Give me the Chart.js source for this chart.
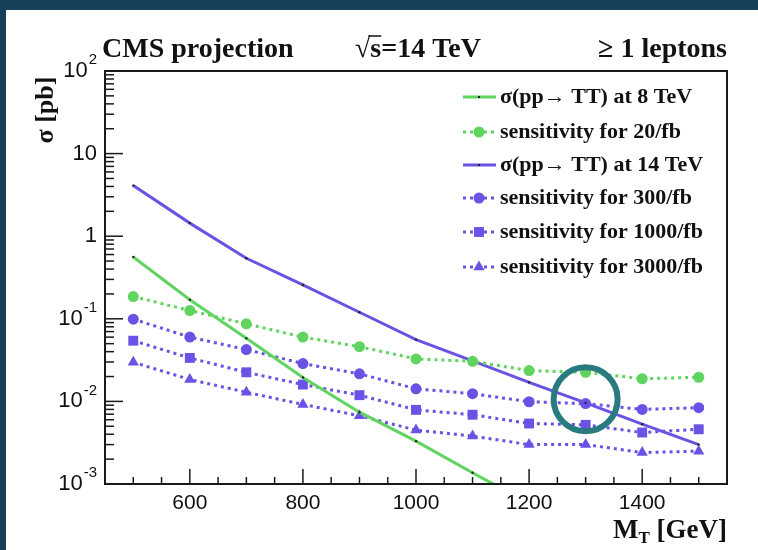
<!DOCTYPE html>
<html>
<head>
<meta charset="utf-8">
<script src="https://cdn.jsdelivr.net/npm/chart.js@4.4.1/dist/chart.umd.min.js"></script>
<style>
  html, body { margin: 0; padding: 0; background: #15405a; }
  #wrap { width: 758px; height: 550px; }
</style>
</head>
<body>
<div id="wrap"><canvas id="xsecChart" width="758" height="550"></canvas></div>
<script>
// T' pair production: theory cross sections and expected sensitivity (pb)
const massPoints = [500, 600, 700, 800, 900, 1000, 1100, 1200, 1300, 1400, 1500];
const xsec8TeV = [0.56, 0.17, 0.058, 0.0195, 0.0074, 0.0033, 0.00137, 0.00058];
const xsec14TeV = [4.1, 1.44, 0.54, 0.257, 0.12, 0.056, 0.031, 0.017, 0.0096, 0.0053, 0.0030];
const sens20 = [0.186, 0.126, 0.087, 0.060, 0.046, 0.0327, 0.0306, 0.0236, 0.0225, 0.0188, 0.0196];
const sens300 = [0.099, 0.060, 0.0424, 0.0287, 0.0216, 0.0142, 0.0124, 0.0099, 0.0094, 0.0080, 0.0084];
const sens1000 = [0.0543, 0.0336, 0.0225, 0.016, 0.0119, 0.0079, 0.0069, 0.0054, 0.0052, 0.0042, 0.0046];
const sens3000 = [0.0298, 0.0184, 0.0129, 0.0092, 0.0067, 0.0045, 0.0038, 0.0030, 0.0030, 0.0024, 0.0025];

const xLabelValues = [600, 800, 1000, 1200, 1400];
const yDecades = [100, 10, 1, 0.1, 0.01, 0.001];
const yTickLabels = [['10', '2'], ['10', ''], ['1', ''], ['10', '-1'], ['10', '-2'], ['10', '-3']];
const circledPoint = [1300, 0.0106];

const green = '#5fd45f';
const violet = '#6a52e4';
const serifBold = '"Liberation Serif", "Times New Roman", serif';
const sans = '"Liberation Sans", Arial, sans-serif';

function toPoints(values) {
    return values.map((v, i) => ({ x: massPoints[i], y: v }));
}

function theoryLine(label, values, color) {
    return {
        label: label,
        data: toPoints(values),
        borderColor: color,
        backgroundColor: '#222',
        borderWidth: 3,
        pointRadius: 1.2,
        pointBorderWidth: 0,
        lineStyle: 'solid'
    };
}

function sensitivityLine(label, values, color, marker, radius) {
    return {
        label: label,
        data: toPoints(values),
        borderColor: color,
        backgroundColor: color,
        borderWidth: 3,
        borderDash: [3, 4],
        pointStyle: marker,
        pointRadius: radius,
        pointBorderWidth: 0,
        lineStyle: 'dotted'
    };
}

function strokeLine(ctx, x1, y1, x2, y2) {
    ctx.beginPath();
    ctx.moveTo(x1, y1);
    ctx.lineTo(x2, y2);
    ctx.stroke();
}

// white panel on the dark slide background
const slideBackground = {
    id: 'slideBackground',
    beforeDraw(chart) {
        const ctx = chart.ctx;
        ctx.save();
        ctx.fillStyle = '#15405a';
        ctx.fillRect(0, 0, chart.width, chart.height);
        ctx.fillStyle = '#ffffff';
        ctx.fillRect(6, 10, chart.width - 6, chart.height - 10);
        ctx.restore();
    }
};

// ROOT style frame: inward ticks, tick labels, titles, legend
const rootFrame = {
    id: 'rootFrame',
    afterDatasetsDraw(chart) {
        const ctx = chart.ctx;
        const a = chart.chartArea;
        const x = chart.scales.x;
        const y = chart.scales.y;
        ctx.save();
        ctx.strokeStyle = '#1a1a1a';
        ctx.lineWidth = 1.5;

        for (let d = -3; d < 2; d++) {
            for (let m = 2; m <= 9; m++) {
                const py = y.getPixelForValue(m * Math.pow(10, d));
                strokeLine(ctx, a.left, py, a.left + 9, py);
            }
        }
        yDecades.forEach(v => {
            const py = y.getPixelForValue(v);
            strokeLine(ctx, a.left, py, a.left + 18, py);
        });
        for (let v = 500; v <= 1500; v += 50) {
            const px = x.getPixelForValue(v);
            const len = v % 200 === 0 ? 15 : 7;
            strokeLine(ctx, px, a.bottom, px, a.bottom - len);
        }

        ctx.lineWidth = 2;
        ctx.strokeRect(a.left, a.top, a.right - a.left, a.bottom - a.top);
        ctx.restore();
    },
    afterDraw(chart) {
        const ctx = chart.ctx;
        const a = chart.chartArea;
        const x = chart.scales.x;
        const y = chart.scales.y;
        ctx.save();
        ctx.fillStyle = '#111';
        ctx.strokeStyle = '#111';

        // y tick labels with exponents
        ctx.textBaseline = 'middle';
        ctx.textAlign = 'right';
        yDecades.forEach((v, i) => {
            const py = y.getPixelForValue(v) - 2;
            const base = yTickLabels[i][0];
            const exp = yTickLabels[i][1];
            let right = a.left - 8;
            if (exp) {
                ctx.font = '15px ' + sans;
                ctx.fillText(exp, right, py - 9);
                right -= ctx.measureText(exp).width + 1;
            }
            ctx.font = '22px ' + sans;
            ctx.fillText(base, right, py + 2);
        });

        // x tick labels
        ctx.textAlign = 'center';
        ctx.textBaseline = 'top';
        ctx.font = '21px ' + sans;
        xLabelValues.forEach(v => {
            ctx.fillText(String(v), x.getPixelForValue(v), a.bottom + 9);
        });

        // header
        ctx.textBaseline = 'alphabetic';
        ctx.textAlign = 'left';
        ctx.font = 'bold 28px ' + serifBold;
        ctx.fillText('CMS projection', 102, 57);
        ctx.fillText('\u221As=14 TeV', 355, 57);
        const radW = ctx.measureText('\u221A').width;
        const sW = ctx.measureText('s').width;
        ctx.lineWidth = 1.5;
        strokeLine(ctx, 355 + radW - 2, 36, 355 + radW + sW, 36);
        ctx.textAlign = 'right';
        ctx.fillText('\u2265 1 leptons', 727, 57);

        // axis titles
        ctx.save();
        ctx.translate(53, 110);
        ctx.rotate(-Math.PI / 2);
        ctx.textAlign = 'center';
        ctx.font = 'bold 26px ' + serifBold;
        ctx.fillText('\u03C3 [pb]', 0, 0);
        ctx.restore();

        ctx.textAlign = 'left';
        ctx.font = 'bold 27px ' + serifBold;
        const rest = ' [GeV]';
        const restW = ctx.measureText(rest).width;
        const mW = ctx.measureText('M').width;
        ctx.font = 'bold 17px ' + serifBold;
        const tW = ctx.measureText('T').width;
        let tx = 727 - restW - tW - mW;
        ctx.font = 'bold 27px ' + serifBold;
        ctx.fillText('M', tx, 538);
        ctx.font = 'bold 17px ' + serifBold;
        ctx.fillText('T', tx + mW, 543);
        ctx.font = 'bold 27px ' + serifBold;
        ctx.fillText(rest, tx + mW + tW, 538);

        // legend
        const rowY = [97, 132, 165, 198, 232, 267];
        chart.data.datasets.forEach((ds, i) => {
            const ly = rowY[i];
            ctx.save();
            ctx.strokeStyle = ds.borderColor;
            ctx.lineWidth = 3;
            if (ds.lineStyle === 'dotted') {
                ctx.setLineDash([3, 4]);
                strokeLine(ctx, 463, ly, 496, ly);
                ctx.setLineDash([]);
                ctx.fillStyle = ds.borderColor;
                Chart.helpers.drawPoint(ctx, {
                    pointStyle: ds.pointStyle, radius: ds.pointRadius, rotation: 0, borderWidth: 0
                }, 479, ly);
            } else {
                strokeLine(ctx, 463, ly, 496, ly);
                ctx.fillStyle = '#222';
                ctx.fillRect(478, ly - 1, 2, 2);
            }
            ctx.restore();
            ctx.textAlign = 'left';
            ctx.textBaseline = 'middle';
            ctx.font = 'bold 22px ' + serifBold;
            ctx.fillText(ds.label, 500, ly);
        });

        // highlighted crossing
        ctx.strokeStyle = '#2a7b80';
        ctx.lineWidth = 6;
        ctx.beginPath();
        ctx.arc(x.getPixelForValue(circledPoint[0]), y.getPixelForValue(circledPoint[1]), 32, 0, Math.PI * 2);
        ctx.stroke();
        ctx.restore();
    }
};

const ctx = document.getElementById('xsecChart').getContext('2d');
const xsecChart = new Chart(ctx, {
    type: 'line',
    data: {
        datasets: [
            theoryLine('\u03C3(pp\u2192 TT) at 8 TeV', xsec8TeV, green),
            sensitivityLine('sensitivity for 20/fb', sens20, green, 'circle', 5.5),
            theoryLine('\u03C3(pp\u2192 TT) at 14 TeV', xsec14TeV, violet),
            sensitivityLine('sensitivity for 300/fb', sens300, violet, 'circle', 5.5),
            sensitivityLine('sensitivity for 1000/fb', sens1000, violet, 'rect', 7),
            sensitivityLine('sensitivity for 3000/fb', sens3000, violet, 'triangle', 6.5)
        ]
    },
    options: {
        responsive: false,
        animation: false,
        layout: { padding: { left: 105, top: 71, right: 31, bottom: 66 } },
        scales: {
            x: { type: 'linear', min: 450, max: 1550, display: false },
            y: { type: 'logarithmic', min: 0.001, max: 100, display: false }
        },
        plugins: {
            legend: { display: false },
            tooltip: { enabled: false }
        }
    },
    plugins: [slideBackground, rootFrame]
});
</script>
</body>
</html>
